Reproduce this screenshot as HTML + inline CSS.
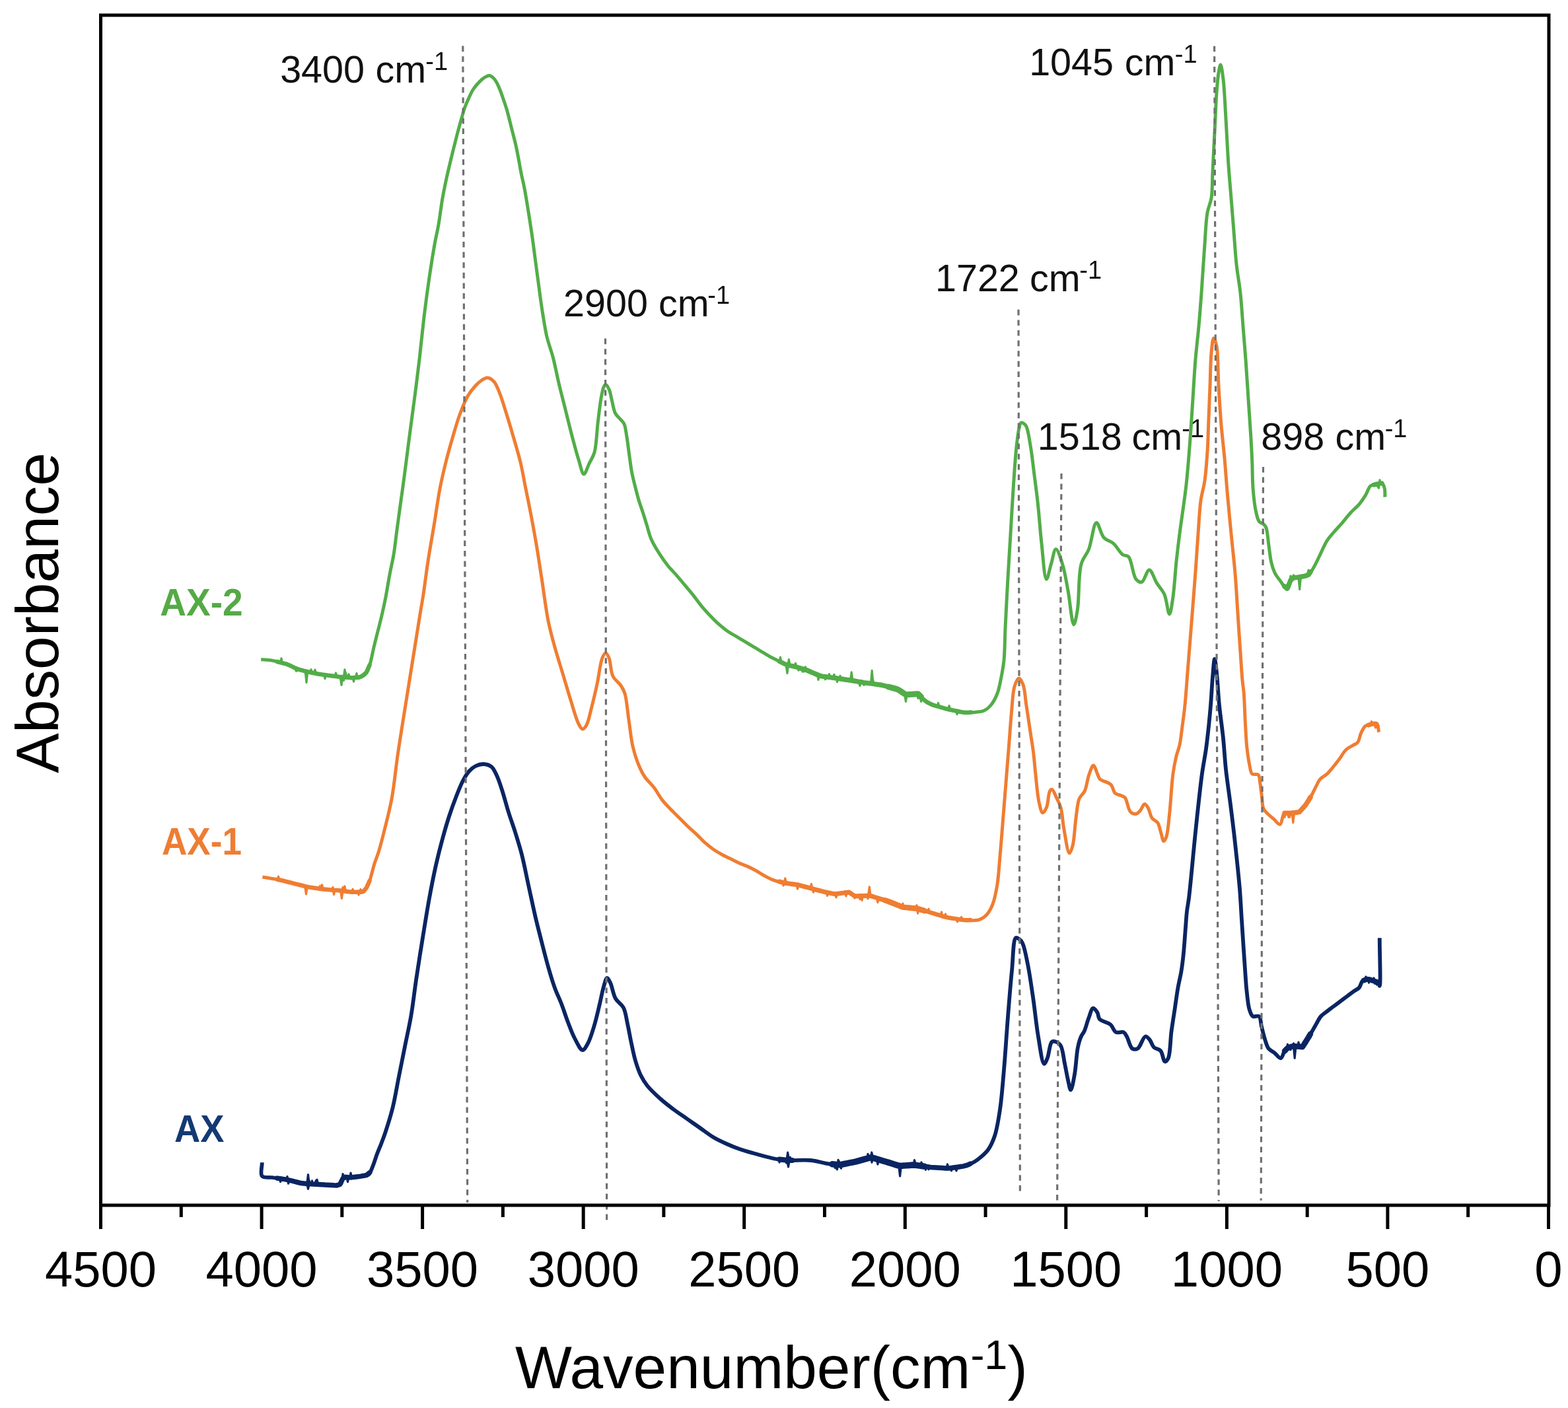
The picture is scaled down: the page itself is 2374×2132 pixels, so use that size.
<!DOCTYPE html>
<html><head><meta charset="utf-8"><title>FTIR spectra</title>
<style>html,body{margin:0;padding:0;background:#fff;width:2374px;height:2132px;overflow:hidden}svg{display:block}</style>
</head><body>
<svg xmlns="http://www.w3.org/2000/svg" width="2374" height="2132" viewBox="0 0 2374 2132">
<rect width="100%" height="100%" fill="#ffffff"/>
<g font-family="Liberation Sans, Arial, sans-serif" fill="#111">
<text x="488.1" y="125.1" font-size="57.5" text-anchor="middle">3400</text>
<text x="568.4" y="125.1" font-size="57.5">cm</text>
<text x="644.3" y="106.1" font-size="38">-1</text>
<text x="917.0" y="479.2" font-size="57.5" text-anchor="middle">2900</text>
<text x="996.9" y="479.2" font-size="57.5">cm</text>
<text x="1071.3" y="460.2" font-size="38">-1</text>
<text x="1479.9" y="441.4" font-size="57.5" text-anchor="middle">1722</text>
<text x="1559.1" y="441.4" font-size="57.5">cm</text>
<text x="1634.3" y="422.4" font-size="38">-1</text>
<text x="1634.8" y="680.7" font-size="57.5" text-anchor="middle">1518</text>
<text x="1713.6" y="680.7" font-size="57.5">cm</text>
<text x="1789.3" y="661.7" font-size="38">-1</text>
<text x="1622.1" y="114.4" font-size="57.5" text-anchor="middle">1045</text>
<text x="1702.8" y="114.4" font-size="57.5">cm</text>
<text x="1778.8" y="95.4" font-size="38">-1</text>
<text x="1957.2" y="681.0" font-size="57.5" text-anchor="middle">898</text>
<text x="2021.6" y="681.0" font-size="57.5">cm</text>
<text x="2096.7" y="662.0" font-size="38">-1</text>
</g>
<path d="M396.8,1760.2 C396.8,1767.1 393.6,1777.1 396.8,1780.8 C399.6,1784.0 406.9,1782.2 412.6,1783.0 C419.3,1784.0 427.1,1784.8 434.3,1786.2 C441.6,1787.6 450.0,1790.6 456.0,1791.6 C460.2,1792.3 462.6,1792.4 466.8,1792.7 C472.8,1793.2 481.3,1793.4 488.5,1793.8 C495.7,1794.2 505.3,1795.6 510.2,1794.9 C512.8,1794.6 514.5,1794.5 516.0,1793.0 C518.1,1791.0 517.4,1783.7 520.0,1782.0 C522.7,1780.3 527.7,1783.1 532.0,1783.0 C537.0,1782.9 543.5,1781.6 548.2,1780.8 C551.9,1780.1 555.4,1780.6 558.0,1778.6 C561.1,1776.2 562.5,1770.4 564.5,1765.6 C566.9,1760.0 568.8,1753.0 571.0,1747.1 C573.1,1741.5 575.5,1736.2 577.5,1730.9 C579.4,1725.8 580.9,1722.2 583.0,1716.0 C586.3,1706.1 591.2,1690.6 594.6,1677.0 C598.2,1662.3 600.7,1646.2 603.8,1630.8 C606.9,1615.4 609.9,1600.0 613.0,1584.6 C616.1,1569.2 619.5,1554.6 622.3,1538.5 C625.3,1521.1 627.2,1502.9 630.0,1484.0 C633.0,1463.5 636.6,1441.0 640.0,1420.0 C643.3,1399.7 646.5,1379.1 650.0,1360.0 C653.2,1342.5 656.5,1325.7 660.0,1310.0 C663.2,1295.9 666.5,1282.8 670.0,1270.0 C673.2,1258.2 676.5,1246.7 680.0,1236.0 C683.2,1226.2 686.5,1216.9 690.0,1208.0 C693.2,1199.6 696.4,1191.1 700.0,1184.0 C703.1,1178.0 706.3,1172.2 710.0,1168.0 C713.1,1164.6 716.3,1161.8 720.0,1160.0 C723.6,1158.2 728.0,1156.8 732.0,1157.0 C736.0,1157.2 740.7,1158.4 744.0,1161.0 C747.6,1163.8 749.6,1169.0 752.0,1174.0 C755.0,1180.2 757.3,1187.8 760.0,1196.0 C763.3,1206.1 766.6,1219.1 770.0,1230.0 C773.2,1240.3 776.8,1249.7 780.0,1260.0 C783.4,1270.9 786.9,1281.8 790.0,1294.0 C793.6,1308.1 796.6,1324.3 800.0,1340.0 C803.6,1356.3 807.4,1374.7 811.0,1390.0 C814.1,1403.0 816.9,1413.8 820.0,1426.0 C823.2,1438.5 826.5,1451.9 830.0,1464.0 C833.2,1475.2 836.4,1486.2 840.0,1496.0 C843.1,1504.7 846.8,1511.6 850.0,1520.0 C853.5,1528.9 856.5,1539.1 860.0,1548.0 C863.2,1556.4 866.1,1564.7 870.0,1572.0 C873.5,1578.6 878.3,1589.8 882.0,1590.0 C884.8,1590.1 887.5,1584.4 890.0,1580.0 C893.8,1573.2 897.1,1561.7 900.0,1552.0 C903.1,1541.8 905.6,1530.1 908.0,1520.0 C910.2,1510.9 911.8,1501.1 914.0,1494.0 C915.6,1488.9 917.1,1481.2 919.0,1481.0 C920.5,1480.8 922.4,1484.8 924.0,1488.0 C926.8,1493.5 928.2,1505.4 932.0,1512.0 C935.2,1517.7 941.1,1520.3 944.0,1526.0 C947.4,1532.6 948.1,1541.5 950.0,1550.0 C952.1,1559.4 953.9,1570.4 956.0,1580.0 C957.9,1589.0 959.6,1597.8 962.0,1606.0 C964.3,1613.7 966.8,1621.4 970.0,1628.0 C972.9,1633.9 975.7,1638.6 980.0,1644.0 C985.2,1650.6 993.2,1657.9 1000.0,1664.0 C1006.5,1669.8 1013.3,1674.9 1020.0,1680.0 C1026.6,1684.9 1033.3,1689.3 1040.0,1694.0 C1046.7,1698.7 1053.3,1703.3 1060.0,1708.0 C1066.7,1712.7 1073.2,1717.9 1080.0,1722.0 C1086.5,1725.9 1093.3,1729.0 1100.0,1732.0 C1106.6,1735.0 1113.3,1737.7 1120.0,1740.0 C1126.6,1742.3 1133.3,1744.1 1140.0,1746.0 C1146.7,1747.9 1153.8,1749.9 1160.0,1751.5 C1165.3,1752.9 1169.7,1754.1 1175.0,1755.0 C1180.7,1756.0 1186.2,1756.6 1193.2,1757.0 C1202.9,1757.5 1217.1,1755.9 1227.7,1757.0 C1237.0,1757.9 1245.8,1761.0 1253.6,1762.2 C1259.9,1763.1 1264.6,1764.2 1270.9,1763.9 C1278.7,1763.5 1288.5,1760.7 1296.8,1758.7 C1304.6,1756.8 1312.0,1752.4 1319.3,1752.5 C1326.4,1752.6 1333.0,1756.6 1340.0,1758.7 C1347.3,1760.9 1355.0,1764.8 1362.4,1765.6 C1369.4,1766.4 1375.9,1763.7 1383.2,1763.9 C1391.3,1764.1 1400.4,1766.5 1409.0,1767.4 C1417.6,1768.3 1426.4,1769.4 1435.0,1769.1 C1443.7,1768.8 1454.2,1767.4 1460.9,1765.6 C1465.5,1764.4 1468.7,1762.7 1472.0,1761.0 C1475.0,1759.5 1477.0,1758.3 1480.0,1756.0 C1484.6,1752.5 1491.7,1746.9 1496.0,1741.0 C1500.4,1734.9 1503.2,1728.3 1506.0,1720.0 C1509.7,1709.0 1511.8,1694.7 1514.0,1680.0 C1516.7,1662.1 1518.1,1641.4 1520.0,1620.0 C1522.2,1595.3 1523.9,1565.8 1526.0,1540.0 C1527.9,1515.9 1529.8,1491.4 1532.0,1470.0 C1533.9,1451.9 1533.7,1422.6 1538.0,1420.0 C1539.4,1419.2 1541.5,1420.9 1543.0,1422.0 C1544.9,1423.3 1546.5,1425.0 1548.0,1428.0 C1551.2,1434.3 1553.6,1448.1 1556.0,1460.0 C1559.0,1474.8 1561.4,1492.6 1564.0,1510.0 C1566.8,1529.1 1568.9,1552.0 1572.0,1570.0 C1574.6,1585.0 1577.6,1610.3 1580.8,1610.8 C1582.4,1611.1 1584.2,1606.1 1585.7,1602.5 C1588.2,1596.6 1589.1,1580.7 1592.3,1577.8 C1593.7,1576.5 1595.4,1576.6 1597.2,1577.0 C1599.7,1577.6 1603.3,1579.5 1605.5,1582.7 C1609.3,1588.2 1610.1,1601.7 1612.1,1610.8 C1613.9,1619.3 1615.3,1628.3 1617.0,1635.5 C1618.3,1641.1 1619.7,1650.3 1621.1,1650.3 C1622.9,1650.3 1625.3,1636.1 1626.9,1627.2 C1629.1,1615.5 1629.7,1596.6 1631.9,1586.0 C1633.3,1579.2 1634.8,1574.0 1636.8,1569.5 C1638.3,1566.2 1640.1,1564.7 1641.7,1561.3 C1644.0,1556.2 1645.9,1547.6 1648.3,1541.5 C1650.4,1536.2 1652.3,1527.2 1654.9,1526.7 C1656.9,1526.3 1659.9,1530.7 1661.5,1533.3 C1663.2,1536.1 1662.4,1540.4 1664.8,1543.2 C1668.0,1546.9 1677.1,1547.8 1681.3,1551.4 C1685.0,1554.6 1686.0,1561.2 1689.6,1563.0 C1692.8,1564.6 1698.3,1561.6 1701.1,1563.0 C1703.5,1564.2 1704.3,1566.7 1706.0,1569.5 C1708.6,1573.9 1710.6,1585.3 1714.3,1587.7 C1716.7,1589.2 1719.9,1589.1 1722.5,1587.7 C1726.7,1585.4 1730.4,1570.2 1734.1,1569.5 C1736.4,1569.1 1738.7,1572.2 1740.7,1574.5 C1743.2,1577.4 1744.3,1583.2 1747.2,1586.0 C1749.9,1588.5 1754.5,1588.2 1757.1,1591.0 C1760.4,1594.6 1761.2,1607.0 1763.7,1607.5 C1765.3,1607.8 1767.3,1605.3 1768.7,1602.5 C1772.0,1595.6 1771.8,1574.3 1773.6,1561.3 C1775.2,1549.7 1776.9,1539.3 1778.6,1528.3 C1780.2,1517.3 1781.7,1505.6 1783.5,1495.4 C1785.1,1486.6 1787.1,1479.0 1788.5,1470.7 C1789.9,1462.5 1790.7,1455.2 1791.7,1445.9 C1793.0,1433.9 1794.0,1416.7 1795.0,1404.7 C1795.7,1395.4 1796.1,1387.8 1797.0,1380.0 C1797.8,1373.0 1798.8,1369.2 1800.0,1360.0 C1802.6,1339.4 1806.6,1292.4 1810.0,1260.0 C1813.2,1229.5 1816.8,1194.2 1820.0,1171.0 C1822.1,1156.0 1824.3,1146.1 1826.0,1134.0 C1827.6,1122.4 1828.8,1111.2 1830.0,1100.0 C1831.1,1089.2 1832.1,1079.5 1833.0,1068.0 C1834.1,1054.7 1834.9,1037.7 1836.0,1025.0 C1836.9,1014.9 1837.9,998.0 1839.0,998.0 C1839.9,998.0 1841.1,1009.8 1842.0,1018.0 C1843.5,1030.9 1844.3,1051.3 1846.0,1068.0 C1847.7,1084.7 1850.3,1101.6 1852.0,1118.0 C1853.6,1133.9 1854.3,1148.8 1856.0,1165.0 C1857.9,1182.4 1860.8,1200.8 1863.1,1219.2 C1865.5,1238.2 1867.8,1256.9 1870.0,1277.0 C1872.4,1299.0 1875.3,1325.6 1877.0,1346.0 C1878.3,1362.3 1878.9,1375.7 1879.8,1390.0 C1880.7,1403.5 1881.5,1416.4 1882.4,1429.6 C1883.3,1442.8 1884.2,1456.5 1885.1,1469.1 C1885.9,1480.6 1886.5,1491.7 1887.7,1502.1 C1888.8,1511.4 1889.5,1521.8 1891.6,1528.5 C1893.0,1532.9 1894.2,1537.4 1896.9,1539.0 C1899.3,1540.5 1904.0,1537.3 1906.2,1539.0 C1909.1,1541.3 1908.7,1549.2 1910.1,1554.8 C1911.7,1561.0 1913.4,1568.7 1915.4,1574.6 C1917.0,1579.5 1918.1,1584.4 1920.7,1587.8 C1923.1,1590.8 1926.9,1592.0 1929.9,1594.4 C1933.0,1596.9 1936.4,1602.8 1939.1,1602.3 C1942.2,1601.7 1943.5,1590.8 1947.0,1587.8 C1949.9,1585.3 1953.7,1584.4 1957.6,1583.9 C1962.0,1583.3 1968.5,1587.0 1972.1,1585.2 C1975.4,1583.6 1976.4,1578.3 1978.7,1574.6 C1981.2,1570.5 1984.2,1565.4 1986.6,1561.4 C1988.6,1558.1 1989.9,1555.5 1991.9,1552.2 C1994.3,1548.2 1996.8,1542.5 1999.8,1539.0 C2002.2,1536.2 2004.8,1534.7 2007.7,1532.4 C2010.9,1529.8 2014.7,1527.1 2018.2,1524.5 C2021.7,1521.9 2025.3,1519.2 2028.8,1516.6 C2032.3,1514.0 2035.8,1511.3 2039.3,1508.7 C2042.8,1506.1 2046.6,1503.1 2049.9,1500.8 C2052.7,1498.8 2055.7,1497.9 2057.8,1495.5 C2060.2,1492.8 2060.6,1487.2 2063.1,1485.0 C2065.2,1483.2 2068.4,1482.3 2071.0,1482.3 C2073.6,1482.3 2076.3,1484.1 2078.9,1485.0 C2081.5,1485.9 2085.2,1486.0 2086.8,1487.6 C2088.1,1488.9 2088.3,1493.0 2088.8,1492.9 C2090.7,1492.6 2088.8,1444.5 2088.8,1420.3" fill="none" stroke="#0a2562" stroke-width="5.8" stroke-linejoin="round" stroke-linecap="butt"/>
<path d="M420.0,1784.1 L424.5,1784.8 L429.0,1785.4 L433.5,1786.1 L438.0,1787.1 L442.5,1788.2 L447.0,1789.4 L451.5,1790.5 L456.0,1791.6 L460.5,1792.1 L465.0,1792.5 L469.5,1792.8 L474.0,1793.1 L478.5,1793.3 L483.0,1793.5 L487.5,1793.7 L492.0,1794.0 L496.5,1794.2 L501.0,1794.4 L505.5,1794.7 L510.0,1794.9 L514.5,1793.5 L519.0,1784.8 L523.5,1782.3 L528.0,1782.7 L532.5,1782.9 L537.0,1782.3 L541.5,1781.7 L546.0,1781.1 L550.5,1780.3 L555.0,1779.3 L559.5,1775.6 L559.5,1775.6" fill="none" stroke="#0a2562" stroke-width="7.5" stroke-linejoin="round" stroke-linecap="round"/>
<path d="M1180.0,1755.5 L1184.5,1756.0 L1189.0,1756.5 L1193.5,1757.0 L1198.0,1757.0 L1199.5,1757.0" fill="none" stroke="#0a2562" stroke-width="8.0" stroke-linejoin="round" stroke-linecap="round"/>
<path d="M1260.0,1762.8 L1264.5,1763.3 L1269.0,1763.7 L1273.5,1763.4 L1278.0,1762.5 L1282.5,1761.6 L1287.0,1760.7 L1291.5,1759.8 L1296.0,1758.9 L1300.5,1757.7 L1305.0,1756.4 L1309.5,1755.2 L1314.0,1754.0 L1318.5,1752.7 L1323.0,1753.6 L1327.5,1755.0 L1332.0,1756.3 L1336.5,1757.7 L1341.0,1759.0 L1345.5,1760.4 L1350.0,1761.8 L1354.5,1763.2 L1359.0,1764.6 L1363.5,1765.5 L1368.0,1765.1 L1372.5,1764.8 L1377.0,1764.4 L1381.5,1764.0 L1386.0,1764.3 L1390.5,1764.9 L1395.0,1765.5 L1399.5,1766.1 L1399.5,1766.1" fill="none" stroke="#0a2562" stroke-width="9.5" stroke-linejoin="round" stroke-linecap="round"/>
<path d="M1400.0,1766.2 L1404.5,1766.8 L1409.0,1767.4 L1413.5,1767.7 L1418.0,1768.0 L1422.5,1768.3 L1427.0,1768.6 L1431.5,1768.9 L1436.0,1769.0 L1440.5,1768.4 L1445.0,1767.7 L1449.5,1767.1 L1454.0,1766.5 L1458.5,1765.9 L1463.0,1764.7 L1467.5,1762.9 L1469.0,1762.2" fill="none" stroke="#0a2562" stroke-width="7.5" stroke-linejoin="round" stroke-linecap="round"/>
<path d="M1945.0,1591.5 L1949.5,1586.9 L1954.0,1585.2 L1958.5,1584.0 L1963.0,1584.4 L1967.5,1584.8 L1972.0,1585.2 L1976.5,1578.1 L1981.0,1570.8 L1984.0,1565.7" fill="none" stroke="#0a2562" stroke-width="8.5" stroke-linejoin="round" stroke-linecap="round"/>
<path d="M2065.0,1484.4 L2069.5,1482.8 L2074.0,1483.3 L2078.5,1484.9 L2083.0,1486.3 L2086.0,1487.3" fill="none" stroke="#0a2562" stroke-width="8.0" stroke-linejoin="round" stroke-linecap="round"/>
<path d="M420.0,1784.3 L421.5,1784.7 L423.0,1783.0 L424.5,1789.5 L426.0,1786.8 L427.5,1786.4 L429.0,1785.9 L430.5,1786.1 L432.0,1785.9 L433.5,1786.7 L435.0,1781.5 L436.5,1792.2 L438.0,1788.5 L439.5,1789.0 L441.0,1789.0 L442.5,1789.8 L444.0,1787.2 L445.5,1788.0 L447.0,1789.1 L448.5,1789.0 L450.0,1789.7 L451.5,1790.8 L453.0,1792.3 L454.5,1792.8 L456.0,1793.4 L457.5,1790.5 L459.0,1793.6 L460.5,1792.3 L462.0,1791.2 L463.5,1792.6 L465.0,1790.9 L466.5,1794.4 L468.0,1787.5 L469.5,1792.1 L471.0,1794.3 L472.5,1787.9 L474.0,1793.2 L475.5,1792.3 L477.0,1791.5 L478.5,1787.4 L480.0,1786.2 L481.5,1792.6 L483.0,1795.2 L484.5,1793.1 L486.0,1795.0 L487.5,1795.1 L489.0,1795.1 L490.5,1792.5 L492.0,1795.1 L493.5,1794.5 L495.0,1795.7 L496.5,1793.3 L498.0,1793.7 L499.5,1796.1 L501.0,1794.0 L502.5,1793.2 L504.0,1794.0 L505.5,1796.2 L507.0,1793.9 L508.5,1795.1 L510.0,1793.2 L511.5,1794.9 L513.0,1794.3 L514.5,1792.4 L516.0,1794.2 L517.5,1789.9 L519.0,1777.6 L520.5,1780.7 L522.0,1782.7 L523.5,1781.7 L525.0,1783.0 L526.5,1789.7 L528.0,1781.7 L529.5,1784.5 L531.0,1776.0 L532.5,1781.9 L534.0,1782.8 L535.5,1783.6 L537.0,1781.2 L538.5,1783.2 L540.0,1783.0 L541.5,1780.4 L543.0,1782.6 L544.5,1780.7 L546.0,1780.8 L547.5,1782.4 L549.0,1778.8 L550.5,1781.7 L552.0,1779.7 L553.5,1781.1 L555.0,1780.2 L556.5,1779.5 L558.0,1777.8 L559.5,1774.6 M1180.0,1760.0 L1181.5,1753.9 L1183.0,1755.9 L1184.5,1757.6 L1186.0,1754.4 L1187.5,1754.9 L1189.0,1755.5 L1190.5,1760.9 L1192.0,1755.3 L1193.5,1758.9 L1195.0,1758.2 L1196.5,1752.3 L1198.0,1758.3 L1199.5,1758.2 M1260.0,1764.4 L1261.5,1760.4 L1263.0,1765.0 L1264.5,1768.7 L1266.0,1763.5 L1267.5,1770.9 L1269.0,1756.4 L1270.5,1759.0 L1272.0,1765.5 L1273.5,1769.1 L1275.0,1762.3 L1276.5,1763.2 L1278.0,1760.9 L1279.5,1760.2 L1281.0,1763.0 L1282.5,1759.4 L1284.0,1760.6 L1285.5,1762.4 L1287.0,1762.2 L1288.5,1760.0 L1290.0,1760.0 L1291.5,1759.4 L1293.0,1759.3 L1294.5,1759.3 L1296.0,1756.6 L1297.5,1758.1 L1299.0,1760.4 L1300.5,1759.7 L1302.0,1756.0 L1303.5,1754.9 L1305.0,1757.3 L1306.5,1757.5 L1308.0,1756.8 L1309.5,1753.1 L1311.0,1752.2 L1312.5,1755.8 L1314.0,1747.4 L1315.5,1752.9 L1317.0,1752.3 L1318.5,1750.3 L1320.0,1760.2 L1321.5,1753.6 L1323.0,1751.2 L1324.5,1754.1 L1326.0,1752.5 L1327.5,1757.2 L1329.0,1763.0 L1330.5,1753.7 L1332.0,1757.1 L1333.5,1757.8 L1335.0,1755.9 L1336.5,1759.9 L1338.0,1760.5 L1339.5,1757.2 L1341.0,1760.8 L1342.5,1759.0 L1344.0,1760.3 L1345.5,1761.4 L1347.0,1760.3 L1348.5,1759.6 L1350.0,1761.7 L1351.5,1764.6 L1353.0,1764.6 L1354.5,1764.5 L1356.0,1763.7 L1357.5,1765.9 L1359.0,1766.0 L1360.5,1766.9 L1362.0,1765.9 L1363.5,1767.5 L1365.0,1764.2 L1366.5,1763.7 L1368.0,1763.8 L1369.5,1766.9 L1371.0,1765.9 L1372.5,1763.2 L1374.0,1766.7 L1375.5,1762.1 L1377.0,1762.2 L1378.5,1765.8 L1380.0,1761.8 L1381.5,1766.1 L1383.0,1765.4 L1384.5,1756.5 L1386.0,1762.7 L1387.5,1762.9 L1389.0,1766.6 L1390.5,1763.6 L1392.0,1764.1 L1393.5,1766.5 L1395.0,1760.0 L1396.5,1763.3 L1398.0,1767.1 L1399.5,1763.7 M1400.0,1765.8 L1401.5,1771.3 L1403.0,1765.4 L1404.5,1767.3 L1406.0,1770.8 L1407.5,1766.8 L1409.0,1768.2 L1410.5,1768.0 L1412.0,1768.5 L1413.5,1768.5 L1415.0,1768.3 L1416.5,1766.7 L1418.0,1767.5 L1419.5,1768.6 L1421.0,1767.2 L1422.5,1768.7 L1424.0,1769.6 L1425.5,1767.3 L1427.0,1767.5 L1428.5,1769.3 L1430.0,1768.9 L1431.5,1768.7 L1433.0,1768.0 L1434.5,1762.9 L1436.0,1769.7 L1437.5,1768.1 L1439.0,1769.7 L1440.5,1772.7 L1442.0,1767.7 L1443.5,1767.7 L1445.0,1768.6 L1446.5,1768.6 L1448.0,1772.9 L1449.5,1767.3 L1451.0,1765.8 L1452.5,1766.9 L1454.0,1766.2 L1455.5,1765.2 L1457.0,1767.2 L1458.5,1766.1 L1460.0,1764.8 L1461.5,1765.0 L1463.0,1765.8 L1464.5,1763.8 L1466.0,1762.9 L1467.5,1762.3 L1469.0,1762.3 M1945.0,1593.1 L1946.5,1586.8 L1948.0,1588.0 L1949.5,1581.2 L1951.0,1586.2 L1952.5,1585.9 L1954.0,1589.6 L1955.5,1585.3 L1957.0,1584.0 L1958.5,1579.9 L1960.0,1584.1 L1961.5,1582.3 L1963.0,1583.7 L1964.5,1585.3 L1966.0,1578.1 L1967.5,1584.2 L1969.0,1586.6 L1970.5,1584.8 L1972.0,1585.1 L1973.5,1577.5 L1975.0,1581.4 L1976.5,1578.0 L1978.0,1580.5 L1979.5,1571.4 L1981.0,1571.5 L1982.5,1568.1 L1984.0,1571.0 M2065.0,1484.4 L2066.5,1483.0 L2068.0,1478.9 L2069.5,1483.9 L2071.0,1481.3 L2072.5,1488.1 L2074.0,1482.2 L2075.5,1483.7 L2077.0,1485.4 L2078.5,1484.3 L2080.0,1481.0 L2081.5,1489.4 L2083.0,1485.5 L2084.5,1491.0 L2086.0,1486.2 M464.7,1792.7 L466.5,1778.5 L468.3,1792.7 M464.7,1792.7 L466.5,1800.4 L468.3,1792.7 M1190.9,1756.9 L1192.7,1745.0 L1194.5,1756.9 M1191.7,1757.0 L1193.5,1767.0 L1195.3,1757.0 M1318.0,1752.6 L1319.8,1745.0 L1321.6,1752.6 M1360.8,1765.6 L1362.6,1781.0 L1364.4,1765.6 M1958.4,1584.1 L1960.2,1602.3 L1962.0,1584.1" fill="none" stroke="#0a2562" stroke-width="3.2" stroke-linejoin="round" stroke-linecap="round"/>
<path d="M397.4,1328.0 C406.1,1329.4 415.2,1330.6 423.4,1332.3 C431.0,1333.9 437.9,1336.0 445.1,1337.8 C452.3,1339.6 459.5,1341.8 466.8,1343.2 C474.0,1344.6 480.8,1345.5 488.5,1346.4 C497.0,1347.4 507.8,1347.7 515.7,1348.6 C521.8,1349.3 526.5,1350.4 532.0,1350.8 C537.7,1351.2 545.6,1352.3 549.3,1350.8 C551.5,1349.9 552.3,1348.2 553.6,1346.4 C555.2,1344.3 556.7,1341.8 558.0,1338.8 C559.7,1334.9 560.9,1329.6 562.3,1324.7 C563.8,1319.5 565.0,1314.0 566.7,1308.4 C568.6,1302.4 571.1,1296.6 573.2,1290.0 C575.6,1282.3 577.5,1275.0 580.0,1265.0 C583.8,1250.0 589.6,1228.3 593.2,1208.8 C597.0,1188.1 598.9,1165.5 602.0,1144.0 C605.1,1122.6 608.8,1100.0 612.0,1080.0 C614.8,1062.3 617.3,1046.7 620.0,1030.0 C622.7,1013.3 625.3,996.7 628.0,980.0 C630.7,963.3 633.6,944.5 636.0,930.0 C637.8,918.7 639.3,911.3 641.0,900.0 C643.2,885.5 645.3,867.4 648.0,850.0 C650.9,830.9 654.9,809.1 658.0,790.0 C660.8,772.6 662.9,756.1 666.0,740.0 C668.9,724.8 672.5,709.9 676.0,696.0 C679.2,683.4 682.6,671.6 686.0,660.0 C689.2,649.0 692.2,638.2 696.0,628.0 C699.6,618.3 703.5,607.8 708.0,600.0 C711.7,593.7 716.1,588.3 720.0,584.0 C723.0,580.7 725.8,578.0 729.0,576.0 C731.9,574.2 735.0,571.8 738.0,572.0 C741.3,572.2 745.2,575.0 748.0,578.0 C751.5,581.8 753.4,587.7 756.0,594.0 C759.5,602.3 762.6,613.3 766.0,624.0 C769.9,636.3 774.2,651.0 778.0,664.0 C781.6,676.3 785.0,687.6 788.0,700.0 C791.1,712.9 793.3,726.7 796.0,740.0 C798.7,753.3 801.4,766.3 804.0,780.0 C806.7,794.3 809.4,808.8 812.0,824.0 C814.8,840.4 817.2,857.0 820.0,875.0 C823.2,895.4 826.2,921.0 830.0,940.0 C833.0,955.0 836.3,966.7 840.0,980.0 C843.7,993.4 848.0,1006.7 852.0,1020.0 C856.0,1033.3 859.9,1047.0 864.0,1060.0 C867.9,1072.3 872.1,1088.5 876.0,1096.0 C878.0,1099.9 879.9,1103.9 882.0,1104.0 C883.9,1104.1 886.2,1101.1 888.0,1098.0 C891.3,1092.3 893.4,1079.8 896.0,1070.0 C898.8,1059.2 901.4,1047.8 904.0,1036.0 C906.8,1023.2 908.7,1003.7 912.0,996.0 C913.5,992.5 915.3,989.0 917.0,989.0 C918.7,989.0 920.5,992.7 922.0,996.0 C924.7,1002.1 924.3,1016.6 928.0,1024.0 C930.9,1029.9 936.9,1033.3 940.0,1038.0 C942.6,1042.0 944.3,1044.7 946.0,1050.0 C948.9,1059.3 950.0,1076.7 952.0,1090.0 C954.0,1103.3 955.3,1118.2 958.0,1130.0 C960.2,1139.7 962.8,1148.0 966.0,1156.0 C968.9,1163.2 971.9,1169.9 976.0,1176.0 C980.0,1182.0 985.6,1186.5 990.0,1192.3 C994.6,1198.3 998.3,1205.8 1002.8,1211.6 C1006.9,1216.8 1011.4,1221.2 1015.7,1225.7 C1019.9,1230.1 1024.2,1234.2 1028.5,1238.5 C1032.8,1242.8 1037.0,1247.2 1041.3,1251.3 C1045.5,1255.3 1049.9,1258.9 1054.1,1262.9 C1058.4,1267.0 1062.6,1271.8 1067.0,1275.7 C1071.2,1279.4 1075.4,1282.9 1079.8,1286.0 C1084.0,1288.9 1088.3,1291.3 1092.6,1293.7 C1096.8,1296.0 1101.1,1298.0 1105.4,1300.1 C1109.7,1302.2 1114.0,1304.6 1118.3,1306.5 C1122.5,1308.4 1126.9,1309.7 1131.1,1311.6 C1135.4,1313.5 1139.7,1315.7 1143.9,1318.0 C1148.2,1320.4 1152.5,1323.3 1156.8,1325.7 C1161.0,1328.0 1164.8,1330.3 1169.6,1332.1 C1175.3,1334.3 1182.3,1336.0 1188.8,1337.3 C1195.2,1338.6 1201.7,1338.5 1208.1,1339.8 C1214.6,1341.1 1220.9,1343.3 1227.3,1345.0 C1233.7,1346.7 1240.3,1348.6 1246.5,1350.1 C1252.3,1351.5 1257.4,1353.5 1263.5,1353.8 C1270.3,1354.1 1280.0,1349.7 1285.5,1351.0 C1289.3,1351.9 1290.5,1355.9 1294.3,1357.0 C1299.8,1358.6 1308.6,1355.0 1316.3,1356.0 C1325.3,1357.1 1336.0,1361.7 1344.8,1364.8 C1352.7,1367.6 1359.3,1371.8 1366.8,1373.6 C1374.0,1375.4 1381.5,1374.4 1388.8,1375.8 C1396.2,1377.3 1403.5,1380.2 1410.8,1382.4 C1418.1,1384.6 1424.8,1387.2 1432.7,1389.0 C1441.5,1391.0 1452.4,1392.9 1461.3,1393.4 C1469.1,1393.8 1477.4,1394.3 1483.3,1392.3 C1487.9,1390.7 1491.2,1388.1 1494.3,1384.6 C1497.9,1380.6 1500.6,1375.3 1503.0,1369.2 C1506.1,1361.3 1507.9,1351.3 1509.7,1340.7 C1511.9,1327.7 1512.6,1312.2 1514.0,1296.7 C1515.6,1279.4 1517.0,1260.1 1518.5,1241.8 C1520.0,1223.5 1521.4,1205.1 1522.9,1186.8 C1524.4,1168.5 1525.9,1150.2 1527.3,1131.9 C1528.8,1113.6 1530.0,1093.4 1531.6,1076.9 C1532.9,1063.2 1533.2,1048.6 1536.0,1039.6 C1537.7,1034.1 1540.3,1027.1 1542.6,1027.0 C1544.7,1026.9 1547.5,1032.8 1549.2,1037.4 C1551.8,1044.4 1552.0,1055.4 1553.6,1065.9 C1555.6,1079.0 1558.2,1096.6 1560.2,1109.9 C1561.8,1120.9 1563.4,1129.8 1564.7,1140.1 C1566.0,1150.8 1566.7,1161.5 1568.0,1173.1 C1569.4,1186.1 1570.6,1203.8 1573.0,1214.3 C1574.6,1221.1 1576.4,1230.5 1578.7,1230.8 C1580.4,1231.0 1582.9,1226.3 1584.5,1222.6 C1587.0,1216.8 1587.1,1201.7 1589.5,1197.9 C1590.5,1196.3 1591.7,1195.2 1592.8,1195.4 C1594.9,1195.9 1597.3,1203.4 1599.4,1207.7 C1601.7,1212.4 1604.2,1216.5 1606.0,1222.6 C1608.5,1231.3 1608.8,1244.4 1610.9,1255.6 C1613.1,1267.4 1616.3,1291.5 1619.1,1291.8 C1620.7,1292.0 1622.7,1285.5 1624.1,1280.3 C1626.6,1270.9 1627.2,1251.7 1629.0,1239.1 C1630.5,1228.4 1631.0,1216.7 1634.0,1209.4 C1636.1,1204.4 1639.9,1202.7 1642.2,1197.9 C1645.3,1191.4 1646.2,1180.1 1648.8,1173.1 C1650.8,1167.7 1653.2,1159.1 1655.4,1159.1 C1657.6,1159.1 1660.2,1169.3 1662.0,1173.1 C1663.3,1175.7 1663.3,1177.7 1665.3,1179.7 C1668.5,1182.9 1677.9,1184.1 1681.8,1188.0 C1685.3,1191.5 1685.4,1198.5 1688.4,1201.2 C1690.7,1203.3 1694.0,1203.3 1696.6,1204.4 C1698.9,1205.4 1701.2,1205.5 1703.2,1207.7 C1706.7,1211.5 1707.7,1225.4 1711.5,1229.2 C1713.8,1231.6 1717.2,1232.8 1719.7,1232.5 C1722.1,1232.2 1724.3,1229.7 1726.3,1227.5 C1728.7,1224.9 1730.7,1217.8 1732.9,1217.6 C1734.6,1217.4 1736.3,1220.2 1737.9,1222.6 C1740.4,1226.3 1741.4,1235.1 1744.4,1239.1 C1746.7,1242.2 1750.6,1242.7 1752.7,1245.7 C1755.3,1249.4 1756.0,1255.7 1757.6,1260.5 C1759.1,1265.0 1760.2,1273.5 1761.8,1273.7 C1763.0,1273.9 1764.7,1270.4 1765.9,1267.1 C1768.4,1260.0 1769.3,1244.3 1770.8,1230.8 C1772.7,1213.8 1773.7,1188.7 1775.8,1173.1 C1777.2,1162.3 1778.8,1154.1 1780.7,1146.0 C1782.3,1139.3 1784.5,1134.7 1786.0,1128.0 C1787.8,1119.8 1788.7,1109.7 1790.0,1100.0 C1791.4,1089.7 1792.8,1079.9 1794.0,1068.0 C1795.5,1053.2 1796.7,1034.7 1798.0,1018.0 C1799.3,1001.3 1800.7,984.7 1802.0,968.0 C1803.3,951.3 1804.7,934.8 1806.0,918.0 C1807.3,900.8 1808.7,883.8 1810.0,866.0 C1811.4,847.2 1812.6,826.6 1814.0,808.0 C1815.3,790.7 1816.0,772.5 1818.0,758.0 C1819.6,746.7 1822.4,739.0 1824.0,728.0 C1825.9,714.8 1827.0,699.1 1828.0,684.0 C1829.1,667.9 1829.3,650.7 1830.0,634.0 C1830.7,617.3 1831.3,600.7 1832.0,584.0 C1832.7,567.3 1832.7,547.3 1834.0,534.0 C1834.9,525.2 1835.9,512.2 1837.5,512.0 C1838.7,511.9 1840.8,518.3 1842.0,524.0 C1844.5,536.2 1843.8,564.0 1845.0,584.0 C1846.2,604.0 1847.4,624.9 1849.0,644.0 C1850.5,661.4 1852.5,677.3 1854.0,694.0 C1855.5,710.7 1856.5,726.3 1858.0,744.0 C1859.7,764.0 1862.0,787.0 1864.0,808.0 C1866.0,828.3 1868.3,848.0 1870.0,868.0 C1871.7,888.0 1872.7,908.0 1874.0,928.0 C1875.3,948.0 1876.7,969.8 1878.0,988.0 C1879.1,1003.2 1879.9,1018.6 1881.0,1030.0 C1881.7,1037.9 1882.7,1042.1 1883.3,1050.0 C1884.2,1061.6 1884.5,1078.7 1885.3,1092.7 C1886.1,1106.2 1886.6,1120.5 1887.9,1132.3 C1889.0,1142.0 1890.3,1151.5 1891.9,1158.7 C1893.1,1163.9 1893.2,1169.6 1895.8,1171.9 C1898.0,1173.8 1903.1,1171.3 1905.1,1173.2 C1907.4,1175.3 1906.9,1180.5 1907.7,1185.0 C1908.7,1190.7 1909.4,1198.2 1910.3,1204.8 C1911.2,1211.4 1910.8,1219.7 1913.0,1224.6 C1914.6,1228.1 1917.1,1230.0 1919.6,1232.5 C1922.3,1235.3 1925.7,1237.8 1928.8,1240.4 C1931.9,1243.1 1935.5,1249.0 1938.0,1248.4 C1941.1,1247.6 1941.1,1233.6 1944.6,1231.2 C1947.0,1229.5 1950.5,1231.4 1953.8,1231.2 C1957.8,1231.0 1963.2,1231.9 1967.0,1229.9 C1971.2,1227.8 1974.5,1222.2 1977.6,1218.0 C1980.6,1213.8 1983.1,1209.2 1985.5,1204.8 C1987.9,1200.5 1989.9,1195.9 1992.1,1191.7 C1994.3,1187.6 1995.8,1183.1 1998.7,1179.8 C2001.5,1176.5 2005.9,1174.9 2009.2,1171.9 C2012.6,1168.8 2015.5,1165.0 2018.5,1161.3 C2021.6,1157.5 2024.6,1153.7 2027.7,1149.5 C2031.1,1144.9 2034.3,1138.6 2038.2,1135.0 C2041.5,1132.0 2045.7,1130.3 2048.8,1128.4 C2051.3,1126.9 2053.6,1126.6 2055.4,1124.4 C2058.0,1121.3 2058.6,1114.3 2060.7,1109.9 C2062.6,1106.0 2064.5,1101.5 2067.3,1099.3 C2069.6,1097.5 2072.4,1097.3 2075.2,1096.7 C2078.1,1096.0 2082.3,1094.0 2084.4,1095.4 C2086.9,1097.1 2086.6,1104.2 2087.7,1108.6" fill="none" stroke="#ef7d32" stroke-width="5.0" stroke-linejoin="round" stroke-linecap="butt"/>
<path d="M420.0,1331.7 L424.5,1332.6 L429.0,1333.7 L433.5,1334.9 L438.0,1336.0 L442.5,1337.1 L447.0,1338.3 L451.5,1339.4 L456.0,1340.5 L460.5,1341.6 L465.0,1342.8 L469.5,1343.6 L474.0,1344.3 L478.5,1344.9 L483.0,1345.6 L487.5,1346.3 L492.0,1346.7 L496.5,1347.0 L501.0,1347.4 L505.5,1347.8 L510.0,1348.1 L514.5,1348.5 L519.0,1349.0 L523.5,1349.7 L528.0,1350.3 L532.5,1350.8 L537.0,1350.8 L541.5,1350.8 L546.0,1350.8 L550.5,1349.6 L555.0,1344.0 L559.5,1333.9 L559.5,1333.9" fill="none" stroke="#ef7d32" stroke-width="6.5" stroke-linejoin="round" stroke-linecap="round"/>
<path d="M1180.0,1334.9 L1184.5,1336.1 L1189.0,1337.3 L1193.5,1337.9 L1198.0,1338.5 L1199.5,1338.7" fill="none" stroke="#ef7d32" stroke-width="7.0" stroke-linejoin="round" stroke-linecap="round"/>
<path d="M1200.0,1338.8 L1204.5,1339.3 L1209.0,1340.0 L1213.5,1341.3 L1218.0,1342.5 L1222.5,1343.7 L1227.0,1344.9 L1231.5,1346.1 L1236.0,1347.3 L1240.5,1348.5 L1245.0,1349.7 L1249.5,1350.8 L1254.0,1351.7 L1258.5,1352.7 L1263.0,1353.7 L1267.5,1353.3 L1272.0,1352.7 L1276.5,1352.1 L1281.0,1351.6 L1285.5,1351.0 L1290.0,1354.1 L1294.5,1357.0 L1299.0,1356.8 L1303.5,1356.6 L1308.0,1356.4 L1312.5,1356.2 L1317.0,1356.2 L1321.5,1357.6 L1326.0,1359.0 L1330.5,1360.4 L1335.0,1361.8 L1339.5,1363.2 L1339.5,1363.2" fill="none" stroke="#ef7d32" stroke-width="7.0" stroke-linejoin="round" stroke-linecap="round"/>
<path d="M1340.0,1363.3 L1344.5,1364.7 L1349.0,1366.5 L1353.5,1368.3 L1358.0,1370.1 L1362.5,1371.9 L1367.0,1373.6 L1371.5,1374.1 L1376.0,1374.5 L1380.5,1375.0 L1385.0,1375.4 L1389.5,1376.0 L1394.0,1377.4 L1398.5,1378.7 L1400.0,1379.2" fill="none" stroke="#ef7d32" stroke-width="8.5" stroke-linejoin="round" stroke-linecap="round"/>
<path d="M1400.0,1379.2 L1404.5,1380.5 L1409.0,1381.9 L1413.5,1383.2 L1418.0,1384.6 L1422.5,1385.9 L1427.0,1387.3 L1431.5,1388.6 L1436.0,1389.5 L1440.5,1390.2 L1445.0,1390.9 L1449.5,1391.6 L1454.0,1392.3 L1458.5,1393.0 L1463.0,1393.3 L1467.5,1393.1 L1469.0,1393.0" fill="none" stroke="#ef7d32" stroke-width="6.5" stroke-linejoin="round" stroke-linecap="round"/>
<path d="M1945.0,1231.2 L1949.5,1231.2 L1954.0,1231.2 L1958.5,1230.7 L1963.0,1230.3 L1967.5,1229.3 L1972.0,1224.3 L1976.5,1219.2 L1981.0,1212.3 L1984.0,1207.3" fill="none" stroke="#ef7d32" stroke-width="7.5" stroke-linejoin="round" stroke-linecap="round"/>
<path d="M2072.0,1097.8 L2076.5,1096.5 L2081.0,1095.9 L2085.5,1099.8 L2085.5,1099.8" fill="none" stroke="#ef7d32" stroke-width="7.0" stroke-linejoin="round" stroke-linecap="round"/>
<path d="M420.0,1333.2 L421.5,1327.1 L423.0,1333.2 L424.5,1331.8 L426.0,1331.5 L427.5,1334.9 L429.0,1334.7 L430.5,1334.1 L432.0,1335.9 L433.5,1336.1 L435.0,1334.8 L436.5,1336.9 L438.0,1337.2 L439.5,1335.3 L441.0,1335.7 L442.5,1337.2 L444.0,1337.6 L445.5,1339.5 L447.0,1338.0 L448.5,1340.0 L450.0,1339.3 L451.5,1340.5 L453.0,1341.2 L454.5,1340.9 L456.0,1339.7 L457.5,1340.9 L459.0,1342.2 L460.5,1341.5 L462.0,1341.5 L463.5,1342.6 L465.0,1343.3 L466.5,1344.1 L468.0,1344.6 L469.5,1344.5 L471.0,1343.2 L472.5,1345.1 L474.0,1344.3 L475.5,1344.2 L477.0,1344.7 L478.5,1345.5 L480.0,1346.1 L481.5,1343.8 L483.0,1347.2 L484.5,1341.3 L486.0,1347.2 L487.5,1339.7 L489.0,1345.5 L490.5,1346.3 L492.0,1345.2 L493.5,1345.8 L495.0,1345.6 L496.5,1345.5 L498.0,1345.6 L499.5,1348.3 L501.0,1346.4 L502.5,1347.2 L504.0,1343.5 L505.5,1354.7 L507.0,1348.7 L508.5,1348.0 L510.0,1348.3 L511.5,1346.8 L513.0,1348.1 L514.5,1347.4 L516.0,1347.3 L517.5,1349.9 L519.0,1343.6 L520.5,1349.2 L522.0,1350.6 L523.5,1348.9 L525.0,1350.3 L526.5,1351.5 L528.0,1349.5 L529.5,1349.4 L531.0,1349.8 L532.5,1351.5 L534.0,1346.4 L535.5,1350.0 L537.0,1351.2 L538.5,1351.5 L540.0,1350.6 L541.5,1349.2 L543.0,1355.0 L544.5,1349.5 L546.0,1346.6 L547.5,1349.9 L549.0,1350.7 L550.5,1350.0 L552.0,1349.3 L553.5,1347.2 L555.0,1344.0 L556.5,1340.0 L558.0,1338.9 L559.5,1332.6 M1180.0,1334.4 L1181.5,1337.0 L1183.0,1334.9 L1184.5,1335.6 L1186.0,1340.9 L1187.5,1338.3 L1189.0,1335.4 L1190.5,1337.2 L1192.0,1336.5 L1193.5,1336.2 L1195.0,1337.6 L1196.5,1336.6 L1198.0,1337.3 L1199.5,1338.3 M1200.0,1339.6 L1201.5,1337.7 L1203.0,1337.8 L1204.5,1339.8 L1206.0,1340.1 L1207.5,1346.0 L1209.0,1340.0 L1210.5,1340.3 L1212.0,1340.1 L1213.5,1341.2 L1215.0,1342.6 L1216.5,1343.2 L1218.0,1341.6 L1219.5,1342.1 L1221.0,1343.9 L1222.5,1344.0 L1224.0,1342.8 L1225.5,1346.1 L1227.0,1344.7 L1228.5,1338.5 L1230.0,1346.7 L1231.5,1351.1 L1233.0,1347.7 L1234.5,1345.9 L1236.0,1346.2 L1237.5,1349.2 L1239.0,1347.6 L1240.5,1348.6 L1242.0,1347.8 L1243.5,1348.5 L1245.0,1349.2 L1246.5,1350.8 L1248.0,1351.1 L1249.5,1350.4 L1251.0,1350.7 L1252.5,1356.4 L1254.0,1353.1 L1255.5,1352.0 L1257.0,1351.8 L1258.5,1353.2 L1260.0,1354.2 L1261.5,1353.8 L1263.0,1354.2 L1264.5,1354.1 L1266.0,1358.9 L1267.5,1353.2 L1269.0,1351.8 L1270.5,1352.0 L1272.0,1352.4 L1273.5,1354.0 L1275.0,1352.5 L1276.5,1351.4 L1278.0,1352.2 L1279.5,1352.1 L1281.0,1356.9 L1282.5,1350.3 L1284.0,1352.7 L1285.5,1350.5 L1287.0,1352.1 L1288.5,1351.7 L1290.0,1355.4 L1291.5,1355.0 L1293.0,1356.0 L1294.5,1357.4 L1296.0,1357.8 L1297.5,1358.4 L1299.0,1357.2 L1300.5,1357.4 L1302.0,1361.6 L1303.5,1355.9 L1305.0,1363.5 L1306.5,1356.6 L1308.0,1356.2 L1309.5,1355.7 L1311.0,1356.2 L1312.5,1357.5 L1314.0,1360.8 L1315.5,1357.0 L1317.0,1355.9 L1318.5,1355.4 L1320.0,1356.8 L1321.5,1358.7 L1323.0,1358.5 L1324.5,1357.7 L1326.0,1358.1 L1327.5,1360.9 L1329.0,1366.5 L1330.5,1359.9 L1332.0,1360.4 L1333.5,1362.5 L1335.0,1360.6 L1336.5,1363.8 L1338.0,1362.0 L1339.5,1364.4 M1340.0,1364.5 L1341.5,1362.3 L1343.0,1362.5 L1344.5,1365.0 L1346.0,1366.8 L1347.5,1364.8 L1349.0,1366.9 L1350.5,1368.2 L1352.0,1367.2 L1353.5,1369.3 L1355.0,1371.1 L1356.5,1369.6 L1358.0,1368.0 L1359.5,1370.6 L1361.0,1373.2 L1362.5,1369.9 L1364.0,1371.6 L1365.5,1375.3 L1367.0,1368.0 L1368.5,1375.6 L1370.0,1373.6 L1371.5,1372.8 L1373.0,1373.7 L1374.5,1375.0 L1376.0,1373.6 L1377.5,1372.7 L1379.0,1373.4 L1380.5,1374.6 L1382.0,1374.4 L1383.5,1374.0 L1385.0,1374.6 L1386.5,1376.9 L1388.0,1370.7 L1389.5,1383.1 L1391.0,1376.6 L1392.5,1376.1 L1394.0,1377.9 L1395.5,1380.2 L1397.0,1378.1 L1398.5,1377.8 L1400.0,1379.6 M1400.0,1379.3 L1401.5,1380.8 L1403.0,1380.0 L1404.5,1380.6 L1406.0,1376.2 L1407.5,1380.5 L1409.0,1381.9 L1410.5,1382.1 L1412.0,1383.3 L1413.5,1383.6 L1415.0,1382.5 L1416.5,1385.3 L1418.0,1385.3 L1419.5,1385.9 L1421.0,1384.4 L1422.5,1384.8 L1424.0,1386.5 L1425.5,1380.8 L1427.0,1387.7 L1428.5,1386.9 L1430.0,1387.3 L1431.5,1383.8 L1433.0,1389.3 L1434.5,1388.9 L1436.0,1389.3 L1437.5,1389.8 L1439.0,1390.4 L1440.5,1391.0 L1442.0,1391.5 L1443.5,1389.9 L1445.0,1390.0 L1446.5,1390.7 L1448.0,1390.4 L1449.5,1395.8 L1451.0,1393.0 L1452.5,1392.5 L1454.0,1392.7 L1455.5,1388.6 L1457.0,1391.6 L1458.5,1391.8 L1460.0,1393.7 L1461.5,1394.0 L1463.0,1392.7 L1464.5,1392.8 L1466.0,1394.4 L1467.5,1393.6 L1469.0,1393.6 M1945.0,1237.4 L1946.5,1229.8 L1948.0,1232.5 L1949.5,1231.3 L1951.0,1237.5 L1952.5,1237.5 L1954.0,1232.0 L1955.5,1232.7 L1957.0,1230.2 L1958.5,1230.3 L1960.0,1232.3 L1961.5,1231.5 L1963.0,1231.4 L1964.5,1230.0 L1966.0,1229.9 L1967.5,1228.1 L1969.0,1226.4 L1970.5,1226.3 L1972.0,1223.0 L1973.5,1224.0 L1975.0,1221.4 L1976.5,1220.8 L1978.0,1216.6 L1979.5,1216.2 L1981.0,1210.4 L1982.5,1208.6 L1984.0,1206.6 M2072.0,1098.4 L2073.5,1097.1 L2075.0,1097.8 L2076.5,1092.3 L2078.0,1097.1 L2079.5,1096.5 L2081.0,1095.2 L2082.5,1102.0 L2084.0,1094.4 L2085.5,1101.2 M461.7,1342.4 L463.5,1354.0 L465.3,1342.4 M515.6,1348.8 L517.4,1360.4 L519.2,1348.8 M520.0,1349.4 L521.8,1341.8 L523.6,1349.4 M1187.0,1337.3 L1188.8,1330.0 L1190.6,1337.3 M1314.5,1356.0 L1316.3,1342.9 L1318.1,1356.0 M1292.2,1356.8 L1294.0,1360.0 L1295.8,1356.8 M1956.0,1230.8 L1957.8,1245.7 L1959.6,1230.8" fill="none" stroke="#ef7d32" stroke-width="3.2" stroke-linejoin="round" stroke-linecap="round"/>
<path d="M395.2,998.5 C401.0,999.1 406.5,999.2 412.6,1000.2 C419.5,1001.4 427.7,1003.3 434.3,1005.6 C440.2,1007.7 445.0,1011.2 450.5,1013.2 C455.8,1015.1 461.3,1016.2 466.8,1017.5 C472.2,1018.8 477.7,1019.9 483.1,1020.8 C488.5,1021.7 494.0,1022.3 499.4,1023.0 C504.8,1023.7 510.3,1024.6 515.7,1025.1 C521.1,1025.6 527.0,1026.1 532.0,1026.2 C536.3,1026.3 540.3,1027.1 544.0,1026.0 C547.6,1025.0 551.4,1023.0 554.0,1020.0 C557.0,1016.6 558.2,1011.5 560.0,1006.0 C562.4,998.8 564.0,988.5 566.0,980.0 C568.0,971.8 570.0,964.0 572.0,956.0 C574.0,948.0 576.1,940.3 578.0,932.0 C580.1,923.0 582.1,913.8 584.0,904.0 C586.1,893.2 587.9,881.0 590.0,870.0 C591.9,859.7 594.3,850.0 596.0,840.0 C597.7,830.0 598.7,820.0 600.0,810.0 C601.3,800.0 602.4,791.6 604.0,780.0 C606.2,763.8 609.4,741.7 612.0,722.0 C614.7,701.7 617.3,680.5 620.0,660.0 C622.6,639.8 625.5,619.7 628.0,600.0 C630.5,581.0 632.7,563.3 635.0,544.0 C637.4,523.4 639.5,501.0 642.0,480.0 C644.5,459.7 647.2,439.1 650.0,420.0 C652.6,402.6 655.4,384.5 658.0,370.0 C660.0,358.7 662.1,350.7 664.0,340.0 C666.2,327.6 667.8,312.4 670.0,300.0 C671.9,289.3 673.8,280.3 676.0,270.0 C678.4,259.0 681.3,247.2 684.0,236.0 C686.6,225.2 689.5,213.7 692.0,204.0 C694.1,196.0 696.0,189.1 698.0,182.0 C700.0,175.2 701.8,168.0 704.0,162.0 C705.9,156.9 707.9,152.5 710.0,148.0 C711.9,143.8 713.7,139.6 716.0,136.0 C718.1,132.7 720.6,129.7 723.0,127.0 C725.3,124.4 727.7,121.9 730.0,120.0 C732.0,118.4 734.0,116.9 736.0,116.0 C737.7,115.2 739.3,114.3 741.0,114.5 C743.0,114.7 745.2,116.4 747.0,118.0 C749.0,119.8 750.5,122.3 752.0,125.0 C753.8,128.2 755.4,132.1 757.0,136.0 C758.8,140.4 760.4,145.2 762.0,150.0 C763.7,154.9 765.5,160.0 767.0,165.0 C768.5,170.0 769.6,174.6 771.0,180.0 C772.6,186.2 774.3,193.3 776.0,200.0 C777.7,206.7 779.5,213.3 781.0,220.0 C782.5,226.6 783.7,233.2 785.0,240.0 C786.4,247.2 787.5,254.6 789.0,262.0 C790.5,269.6 792.3,275.9 794.0,285.0 C796.5,298.1 799.8,319.3 802.0,333.0 C803.6,343.3 804.7,350.8 806.0,360.0 C807.4,369.7 808.7,380.0 810.0,390.0 C811.3,400.0 812.7,410.0 814.0,420.0 C815.3,430.0 816.6,440.0 818.0,450.0 C819.4,460.0 820.8,470.0 822.5,480.0 C824.2,490.0 825.6,499.9 828.0,510.0 C830.5,520.6 834.6,530.8 837.5,542.0 C840.6,554.1 843.0,567.2 846.0,580.0 C849.1,593.2 852.7,606.7 856.0,620.0 C859.3,633.3 862.6,647.0 866.0,660.0 C869.3,672.3 872.6,685.5 876.0,696.0 C878.7,704.3 881.1,717.8 884.0,718.0 C886.5,718.1 889.4,707.4 892.0,702.0 C894.7,696.4 897.9,692.3 900.0,685.0 C903.2,673.6 903.5,653.7 905.3,639.0 C907.0,625.5 908.6,609.9 910.6,600.0 C911.8,593.8 912.8,587.8 914.5,585.0 C915.3,583.6 916.2,582.4 917.2,582.5 C918.8,582.7 921.0,587.1 922.4,590.3 C924.3,594.5 925.0,600.6 926.4,606.2 C928.0,612.4 929.0,620.9 931.7,626.0 C933.8,629.9 937.2,632.4 939.6,635.2 C941.6,637.6 943.5,638.8 944.9,641.8 C947.0,646.2 947.6,653.4 948.8,660.3 C950.3,668.9 951.5,679.9 952.8,689.3 C954.1,698.3 955.1,707.3 956.7,715.7 C958.2,723.5 960.2,730.9 962.0,738.1 C963.7,744.9 965.3,751.3 967.3,757.9 C969.3,764.5 971.9,771.3 973.9,777.7 C975.8,783.6 977.3,788.8 979.2,794.8 C981.3,801.4 982.7,808.7 985.7,815.7 C989.0,823.4 994.0,831.6 998.5,838.7 C1002.6,845.2 1006.9,851.2 1011.3,856.7 C1015.4,861.8 1019.9,866.0 1024.1,870.8 C1028.4,875.8 1032.7,881.1 1037.0,886.2 C1041.3,891.3 1045.6,896.3 1049.8,901.6 C1054.1,907.0 1058.2,913.1 1062.6,918.3 C1066.8,923.3 1071.1,927.9 1075.4,932.4 C1079.6,936.8 1083.9,941.3 1088.3,945.2 C1092.5,948.9 1096.7,952.4 1101.1,955.5 C1105.3,958.4 1109.6,960.6 1113.9,963.2 C1118.2,965.8 1122.5,968.3 1126.8,970.9 C1131.1,973.5 1135.3,976.0 1139.6,978.6 C1143.9,981.2 1148.1,983.7 1152.4,986.3 C1156.7,988.9 1160.9,991.6 1165.2,994.0 C1169.4,996.3 1173.8,998.3 1178.1,1000.4 C1182.4,1002.5 1186.5,1005.3 1190.9,1006.8 C1195.1,1008.2 1199.1,1008.1 1203.7,1009.3 C1209.3,1010.7 1215.8,1012.7 1222.0,1015.0 C1228.6,1017.5 1234.9,1021.7 1242.2,1023.7 C1250.0,1025.9 1259.3,1025.9 1267.4,1027.1 C1274.9,1028.2 1282.1,1029.3 1289.2,1030.4 C1296.0,1031.5 1302.2,1032.7 1309.3,1033.8 C1317.2,1035.0 1326.2,1035.5 1334.5,1037.2 C1343.0,1038.9 1353.1,1040.8 1359.7,1043.9 C1364.6,1046.2 1366.8,1050.8 1371.4,1052.0 C1376.7,1053.4 1384.8,1048.7 1389.9,1050.6 C1394.7,1052.4 1397.6,1059.4 1401.6,1062.3 C1404.9,1064.7 1407.5,1065.7 1411.7,1067.3 C1417.8,1069.7 1427.1,1072.1 1435.1,1074.0 C1443.3,1076.0 1452.4,1078.5 1460.3,1079.1 C1467.2,1079.6 1474.6,1078.7 1480.0,1078.0 C1483.9,1077.5 1486.8,1077.5 1490.0,1076.0 C1493.5,1074.3 1497.0,1071.6 1500.0,1068.0 C1503.8,1063.5 1507.4,1056.7 1510.0,1050.0 C1512.9,1042.5 1514.3,1033.4 1516.0,1025.0 C1517.7,1016.7 1519.0,1009.7 1520.0,1000.0 C1521.4,986.5 1521.2,969.2 1522.0,951.4 C1523.0,929.9 1524.4,903.8 1525.7,880.0 C1527.0,856.2 1528.6,832.4 1530.0,808.6 C1531.4,784.8 1532.8,759.5 1534.3,737.0 C1535.7,716.9 1536.9,696.3 1538.6,680.0 C1539.9,667.8 1541.2,655.0 1543.0,648.0 C1543.9,644.4 1544.3,640.6 1546.0,640.0 C1547.6,639.4 1551.0,641.4 1552.9,644.0 C1556.7,649.1 1558.0,663.3 1560.0,674.3 C1562.4,687.3 1563.8,702.5 1565.7,717.0 C1567.6,732.0 1569.6,746.6 1571.4,762.9 C1573.4,781.6 1574.8,803.5 1577.0,823.0 C1579.1,841.5 1581.2,876.7 1584.3,877.0 C1586.4,877.2 1589.0,861.9 1591.4,854.3 C1593.8,846.7 1595.8,831.6 1598.6,831.4 C1601.5,831.2 1605.8,845.4 1608.6,854.3 C1612.2,865.6 1614.3,880.1 1617.0,894.3 C1620.0,910.3 1622.8,945.6 1625.7,945.7 C1627.6,945.8 1629.8,932.6 1631.4,922.9 C1634.1,906.3 1632.4,870.7 1637.0,854.3 C1639.8,844.3 1645.1,840.3 1648.6,831.4 C1653.0,820.1 1655.6,791.8 1660.0,791.4 C1663.4,791.1 1666.4,808.9 1671.4,814.3 C1675.4,818.6 1681.2,819.1 1685.7,822.9 C1690.9,827.3 1695.4,836.9 1700.0,840.0 C1702.9,842.0 1706.1,840.3 1708.6,842.9 C1713.7,848.0 1715.1,871.3 1720.0,877.0 C1722.6,880.0 1725.9,882.2 1728.6,881.4 C1732.7,880.3 1736.3,862.8 1740.0,862.9 C1743.9,863.0 1747.5,876.6 1751.4,882.9 C1755.1,888.9 1759.9,893.2 1762.9,900.0 C1766.6,908.3 1768.3,930.0 1770.5,930.0 C1772.5,930.0 1774.2,915.8 1775.7,906.0 C1778.0,891.0 1779.3,865.9 1781.2,848.4 C1782.8,833.7 1784.0,823.5 1786.0,808.0 C1788.7,787.0 1793.3,758.4 1796.0,734.0 C1798.6,710.4 1800.3,686.4 1802.0,664.0 C1803.6,643.2 1804.7,624.0 1806.0,604.0 C1807.3,584.0 1808.4,563.1 1810.0,544.0 C1811.5,526.6 1813.5,510.7 1815.0,494.0 C1816.5,477.3 1817.6,462.3 1819.0,444.0 C1820.6,421.7 1822.3,392.0 1824.0,370.0 C1825.3,352.3 1825.7,334.8 1828.0,322.0 C1829.6,313.2 1832.6,308.5 1834.0,300.0 C1835.8,288.7 1835.3,274.7 1836.0,260.0 C1836.9,242.0 1838.0,220.0 1839.0,200.0 C1840.0,180.0 1840.8,156.6 1842.0,140.0 C1842.9,128.3 1843.7,117.7 1845.0,110.0 C1845.9,105.1 1847.0,98.0 1848.0,98.0 C1849.3,98.0 1850.9,110.8 1852.0,120.0 C1853.9,135.0 1854.7,159.2 1856.0,180.0 C1857.4,202.4 1858.5,228.6 1860.0,250.0 C1861.2,268.1 1862.7,283.3 1864.0,300.0 C1865.3,316.7 1866.7,333.3 1868.0,350.0 C1869.3,366.7 1870.3,383.9 1872.0,400.0 C1873.6,415.2 1876.4,428.8 1878.0,444.0 C1879.7,460.1 1880.7,477.3 1882.0,494.0 C1883.3,510.7 1884.7,526.6 1886.0,544.0 C1887.4,563.1 1888.7,584.0 1890.0,604.0 C1891.3,624.0 1893.0,646.5 1894.0,664.0 C1894.8,677.5 1895.3,687.7 1895.8,700.0 C1896.3,712.9 1896.1,727.0 1897.1,739.6 C1898.0,751.1 1899.2,763.4 1901.1,772.5 C1902.5,779.2 1903.7,786.2 1906.4,789.7 C1908.2,792.0 1911.2,792.0 1913.0,793.6 C1914.7,795.1 1915.8,796.3 1916.9,799.0 C1919.1,804.3 1919.6,816.5 1920.9,825.3 C1922.2,834.1 1923.0,844.1 1924.8,851.7 C1926.2,857.7 1927.7,862.6 1930.1,867.5 C1932.5,872.3 1936.2,876.5 1939.3,880.7 C1942.3,884.8 1946.0,892.9 1948.6,892.5 C1951.4,892.1 1951.6,878.2 1955.2,875.4 C1957.9,873.3 1961.9,874.7 1965.7,874.1 C1970.2,873.4 1976.3,873.9 1980.2,871.4 C1984.3,868.8 1986.6,863.1 1989.5,858.2 C1992.8,852.7 1995.5,846.1 1998.7,839.8 C2002.1,833.0 2005.3,824.7 2009.2,818.7 C2012.5,813.6 2016.1,809.9 2019.8,805.5 C2023.6,801.0 2027.6,796.9 2031.6,792.3 C2035.9,787.3 2040.3,781.4 2044.8,776.5 C2049.1,771.8 2054.2,767.9 2058.0,763.3 C2061.6,759.0 2064.4,754.7 2067.3,750.1 C2070.2,745.5 2071.8,738.3 2075.2,735.6 C2077.8,733.5 2081.4,733.7 2084.4,733.0 C2087.1,732.4 2090.3,730.6 2092.3,731.6 C2094.4,732.6 2095.5,736.5 2096.3,739.6 C2097.3,743.3 2096.7,748.3 2096.9,752.7" fill="none" stroke="#52ad48" stroke-width="5.0" stroke-linejoin="round" stroke-linecap="butt"/>
<path d="M420.0,1002.0 L424.5,1003.2 L429.0,1004.3 L433.5,1005.4 L438.0,1007.3 L442.5,1009.4 L447.0,1011.6 L451.5,1013.5 L456.0,1014.7 L460.5,1015.8 L465.0,1017.0 L469.5,1018.0 L474.0,1019.0 L478.5,1019.9 L483.0,1020.8 L487.5,1021.4 L492.0,1022.0 L496.5,1022.6 L501.0,1023.2 L505.5,1023.8 L510.0,1024.4 L514.5,1024.9 L519.0,1025.3 L523.5,1025.6 L528.0,1025.9 L532.5,1026.2 L537.0,1026.1 L541.5,1026.0 L546.0,1024.8 L550.5,1022.1 L555.0,1017.7 L559.5,1007.2 L559.5,1007.2" fill="none" stroke="#52ad48" stroke-width="6.5" stroke-linejoin="round" stroke-linecap="round"/>
<path d="M1180.0,1001.4 L1184.5,1003.6 L1189.0,1005.8 L1193.5,1007.3 L1198.0,1008.2 L1199.5,1008.5" fill="none" stroke="#52ad48" stroke-width="7.0" stroke-linejoin="round" stroke-linecap="round"/>
<path d="M1200.0,1008.6 L1204.5,1009.5 L1209.0,1011.0 L1213.5,1012.4 L1218.0,1013.8 L1222.5,1015.2 L1227.0,1017.2 L1231.5,1019.1 L1236.0,1021.0 L1240.5,1023.0 L1245.0,1024.1 L1249.5,1024.7 L1254.0,1025.3 L1258.5,1025.9 L1263.0,1026.5 L1267.5,1027.1 L1272.0,1027.8 L1276.5,1028.5 L1281.0,1029.2 L1285.5,1029.8 L1290.0,1030.5 L1294.5,1031.3 L1299.0,1032.1 L1303.5,1032.8 L1308.0,1033.6 L1312.5,1034.2 L1317.0,1034.8 L1321.5,1035.4 L1326.0,1036.1 L1330.5,1036.7 L1335.0,1037.3 L1339.5,1038.5 L1344.0,1039.7 L1344.0,1039.7" fill="none" stroke="#52ad48" stroke-width="7.5" stroke-linejoin="round" stroke-linecap="round"/>
<path d="M1345.0,1040.0 L1349.5,1041.2 L1354.0,1042.4 L1358.5,1043.6 L1363.0,1046.2 L1367.5,1049.3 L1372.0,1052.0 L1376.5,1051.6 L1381.0,1051.3 L1385.5,1050.9 L1390.0,1050.7 L1394.5,1055.2 L1394.5,1055.2" fill="none" stroke="#52ad48" stroke-width="9.0" stroke-linejoin="round" stroke-linecap="round"/>
<path d="M1395.0,1055.7 L1399.5,1060.2 L1404.0,1063.5 L1408.5,1065.7 L1413.0,1067.7 L1417.5,1069.0 L1422.0,1070.2 L1426.5,1071.5 L1431.0,1072.8 L1435.5,1074.1 L1440.0,1075.0 L1444.5,1075.9 L1449.0,1076.8 L1453.5,1077.7 L1458.0,1078.6 L1462.5,1079.0 L1467.0,1078.7 L1470.0,1078.6" fill="none" stroke="#52ad48" stroke-width="6.5" stroke-linejoin="round" stroke-linecap="round"/>
<path d="M1945.0,887.9 L1949.5,890.2 L1954.0,878.5 L1958.5,875.0 L1963.0,874.4 L1967.5,873.8 L1972.0,872.9 L1976.5,872.1 L1981.0,870.3 L1984.0,866.0" fill="none" stroke="#52ad48" stroke-width="7.5" stroke-linejoin="round" stroke-linecap="round"/>
<path d="M2080.0,734.2 L2084.5,733.0 L2089.0,732.2 L2092.0,731.7" fill="none" stroke="#52ad48" stroke-width="7.0" stroke-linejoin="round" stroke-linecap="round"/>
<path d="M420.0,1003.2 L421.5,1001.6 L423.0,1002.6 L424.5,1004.1 L426.0,996.8 L427.5,1004.3 L429.0,1004.9 L430.5,1005.6 L432.0,1003.8 L433.5,1003.9 L435.0,1004.4 L436.5,1007.2 L438.0,1008.1 L439.5,1008.9 L441.0,1008.9 L442.5,1010.0 L444.0,1011.6 L445.5,1010.6 L447.0,1012.9 L448.5,1016.3 L450.0,1013.7 L451.5,1014.9 L453.0,1014.9 L454.5,1013.6 L456.0,1015.9 L457.5,1015.1 L459.0,1014.0 L460.5,1016.8 L462.0,1015.2 L463.5,1017.3 L465.0,1016.6 L466.5,1017.4 L468.0,1017.8 L469.5,1018.0 L471.0,1013.7 L472.5,1019.0 L474.0,1019.4 L475.5,1018.4 L477.0,1014.1 L478.5,1019.0 L480.0,1021.6 L481.5,1020.3 L483.0,1020.9 L484.5,1019.4 L486.0,1022.2 L487.5,1022.2 L489.0,1021.7 L490.5,1021.6 L492.0,1027.6 L493.5,1022.2 L495.0,1021.9 L496.5,1022.7 L498.0,1023.2 L499.5,1021.5 L501.0,1022.2 L502.5,1024.6 L504.0,1024.5 L505.5,1023.0 L507.0,1024.5 L508.5,1019.0 L510.0,1023.7 L511.5,1025.5 L513.0,1024.1 L514.5,1024.2 L516.0,1025.6 L517.5,1024.6 L519.0,1025.3 L520.5,1030.4 L522.0,1024.5 L523.5,1018.6 L525.0,1027.2 L526.5,1025.5 L528.0,1020.8 L529.5,1025.8 L531.0,1027.7 L532.5,1026.8 L534.0,1026.2 L535.5,1032.1 L537.0,1026.9 L538.5,1025.2 L540.0,1019.5 L541.5,1027.4 L543.0,1025.7 L544.5,1024.1 L546.0,1023.3 L547.5,1025.4 L549.0,1021.9 L550.5,1023.6 L552.0,1021.2 L553.5,1019.8 L555.0,1018.2 L556.5,1013.2 L558.0,1015.3 L559.5,1006.6 M1180.0,1002.9 L1181.5,995.1 L1183.0,1003.1 L1184.5,1003.3 L1186.0,1002.7 L1187.5,1005.3 L1189.0,1007.2 L1190.5,1007.7 L1192.0,1005.3 L1193.5,1002.7 L1195.0,1006.5 L1196.5,1008.3 L1198.0,1007.7 L1199.5,1007.6 M1200.0,1009.0 L1201.5,1010.3 L1203.0,1009.3 L1204.5,1004.3 L1206.0,1011.8 L1207.5,1009.1 L1209.0,1015.0 L1210.5,1011.7 L1212.0,1011.4 L1213.5,1012.5 L1215.0,1017.0 L1216.5,1017.1 L1218.0,1012.3 L1219.5,1009.8 L1221.0,1015.0 L1222.5,1015.0 L1224.0,1014.6 L1225.5,1016.3 L1227.0,1018.3 L1228.5,1018.9 L1230.0,1019.2 L1231.5,1018.0 L1233.0,1018.0 L1234.5,1021.9 L1236.0,1020.4 L1237.5,1021.3 L1239.0,1029.5 L1240.5,1021.6 L1242.0,1024.0 L1243.5,1024.0 L1245.0,1024.7 L1246.5,1024.4 L1248.0,1023.6 L1249.5,1028.8 L1251.0,1023.4 L1252.5,1024.5 L1254.0,1027.0 L1255.5,1020.6 L1257.0,1027.1 L1258.5,1025.3 L1260.0,1026.4 L1261.5,1025.4 L1263.0,1021.3 L1264.5,1028.0 L1266.0,1025.2 L1267.5,1032.6 L1269.0,1026.1 L1270.5,1028.6 L1272.0,1023.4 L1273.5,1026.7 L1275.0,1027.6 L1276.5,1029.7 L1278.0,1027.4 L1279.5,1029.1 L1281.0,1030.2 L1282.5,1029.8 L1284.0,1029.8 L1285.5,1031.6 L1287.0,1029.3 L1288.5,1028.7 L1290.0,1029.6 L1291.5,1031.4 L1293.0,1030.8 L1294.5,1031.1 L1296.0,1029.8 L1297.5,1030.6 L1299.0,1033.1 L1300.5,1034.0 L1302.0,1038.4 L1303.5,1031.5 L1305.0,1032.3 L1306.5,1032.1 L1308.0,1037.4 L1309.5,1033.8 L1311.0,1033.8 L1312.5,1035.1 L1314.0,1034.4 L1315.5,1033.6 L1317.0,1035.1 L1318.5,1036.5 L1320.0,1035.8 L1321.5,1029.0 L1323.0,1035.2 L1324.5,1036.9 L1326.0,1035.3 L1327.5,1036.4 L1329.0,1037.2 L1330.5,1035.2 L1332.0,1037.2 L1333.5,1036.6 L1335.0,1037.1 L1336.5,1038.5 L1338.0,1038.1 L1339.5,1039.0 L1341.0,1040.2 L1342.5,1041.1 L1344.0,1038.3 M1345.0,1037.9 L1346.5,1038.2 L1348.0,1043.2 L1349.5,1043.6 L1351.0,1039.4 L1352.5,1040.6 L1354.0,1044.7 L1355.5,1042.2 L1357.0,1042.9 L1358.5,1043.5 L1360.0,1043.8 L1361.5,1047.3 L1363.0,1045.0 L1364.5,1047.5 L1366.0,1048.4 L1367.5,1046.9 L1369.0,1049.0 L1370.5,1049.7 L1372.0,1050.4 L1373.5,1053.2 L1375.0,1051.4 L1376.5,1053.5 L1378.0,1050.8 L1379.5,1049.4 L1381.0,1053.2 L1382.5,1052.8 L1384.0,1048.6 L1385.5,1048.4 L1387.0,1051.7 L1388.5,1051.5 L1390.0,1057.3 L1391.5,1052.2 L1393.0,1053.8 L1394.5,1062.3 M1395.0,1055.8 L1396.5,1057.8 L1398.0,1057.8 L1399.5,1059.9 L1401.0,1062.9 L1402.5,1063.3 L1404.0,1064.0 L1405.5,1065.2 L1407.0,1065.0 L1408.5,1066.2 L1410.0,1066.9 L1411.5,1067.6 L1413.0,1067.7 L1414.5,1068.3 L1416.0,1068.1 L1417.5,1070.1 L1419.0,1070.5 L1420.5,1064.4 L1422.0,1070.6 L1423.5,1071.0 L1425.0,1072.2 L1426.5,1072.4 L1428.0,1072.7 L1429.5,1072.0 L1431.0,1073.3 L1432.5,1073.4 L1434.0,1074.5 L1435.5,1074.0 L1437.0,1068.6 L1438.5,1074.3 L1440.0,1073.8 L1441.5,1076.4 L1443.0,1075.4 L1444.5,1076.2 L1446.0,1075.5 L1447.5,1076.0 L1449.0,1081.7 L1450.5,1076.0 L1452.0,1078.0 L1453.5,1077.9 L1455.0,1078.6 L1456.5,1078.1 L1458.0,1078.1 L1459.5,1079.5 L1461.0,1079.3 L1462.5,1079.4 L1464.0,1079.8 L1465.5,1079.8 L1467.0,1078.1 L1468.5,1077.6 L1470.0,1079.4 M1945.0,888.3 L1946.5,888.4 L1948.0,891.6 L1949.5,891.3 L1951.0,886.0 L1952.5,882.0 L1954.0,872.0 L1955.5,873.8 L1957.0,875.1 L1958.5,870.8 L1960.0,872.9 L1961.5,875.4 L1963.0,874.5 L1964.5,875.8 L1966.0,874.7 L1967.5,874.2 L1969.0,872.4 L1970.5,873.0 L1972.0,874.8 L1973.5,871.8 L1975.0,871.9 L1976.5,871.1 L1978.0,870.3 L1979.5,869.8 L1981.0,863.3 L1982.5,867.7 L1984.0,867.7 M2080.0,735.4 L2081.5,732.8 L2083.0,731.9 L2084.5,733.5 L2086.0,737.1 L2087.5,739.1 L2089.0,726.8 L2090.5,733.2 L2092.0,731.5 M462.2,1016.8 L464.0,1033.5 L465.8,1016.8 M515.2,1025.2 L517.0,1037.5 L518.8,1025.2 M520.2,1025.5 L522.0,1013.8 L523.8,1025.5 M1192.6,1007.5 L1194.4,998.6 L1196.2,1007.5 M1190.1,1007.0 L1191.9,1019.5 L1193.7,1007.0 M1287.4,1030.4 L1289.2,1017.9 L1291.0,1030.4 M1318.4,1035.3 L1320.2,1015.3 L1322.0,1035.3 M1369.6,1052.0 L1371.4,1062.3 L1373.2,1052.0 M1965.9,873.7 L1967.7,892.5 L1969.5,873.7" fill="none" stroke="#52ad48" stroke-width="3.2" stroke-linejoin="round" stroke-linecap="round"/>
<line x1="700.8" y1="69.6" x2="707.7" y2="1820.7" stroke="#707070" stroke-width="3.2" stroke-dasharray="8.6 7"/>
<line x1="916.5" y1="512.6" x2="918.7" y2="1851.8" stroke="#707070" stroke-width="3.2" stroke-dasharray="8.6 7"/>
<line x1="1542.0" y1="468.8" x2="1544.4" y2="1810.0" stroke="#707070" stroke-width="3.2" stroke-dasharray="8.6 7"/>
<line x1="1607.0" y1="717.0" x2="1600.6" y2="1821.0" stroke="#707070" stroke-width="3.2" stroke-dasharray="8.6 7"/>
<line x1="1838.6" y1="69.7" x2="1845.2" y2="1818.8" stroke="#707070" stroke-width="3.2" stroke-dasharray="8.6 7"/>
<line x1="1912.5" y1="706.9" x2="1909.2" y2="1817.7" stroke="#707070" stroke-width="3.2" stroke-dasharray="8.6 7"/>
<g stroke="#000" stroke-width="5" fill="none">
<rect x="152.5" y="23" width="2192.5" height="1802"/>
<line x1="152.5" y1="1825.0" x2="152.5" y2="1861"/>
<line x1="396.1" y1="1825.0" x2="396.1" y2="1861"/>
<line x1="639.6" y1="1825.0" x2="639.6" y2="1861"/>
<line x1="883.2" y1="1825.0" x2="883.2" y2="1861"/>
<line x1="1126.7" y1="1825.0" x2="1126.7" y2="1861"/>
<line x1="1370.3" y1="1825.0" x2="1370.3" y2="1861"/>
<line x1="1613.8" y1="1825.0" x2="1613.8" y2="1861"/>
<line x1="1857.4" y1="1825.0" x2="1857.4" y2="1861"/>
<line x1="2100.9" y1="1825.0" x2="2100.9" y2="1861"/>
<line x1="2344.5" y1="1825.0" x2="2344.5" y2="1861"/>
<line x1="274.3" y1="1825.0" x2="274.3" y2="1843"/>
<line x1="517.8" y1="1825.0" x2="517.8" y2="1843"/>
<line x1="761.4" y1="1825.0" x2="761.4" y2="1843"/>
<line x1="1004.9" y1="1825.0" x2="1004.9" y2="1843"/>
<line x1="1248.5" y1="1825.0" x2="1248.5" y2="1843"/>
<line x1="1492.1" y1="1825.0" x2="1492.1" y2="1843"/>
<line x1="1735.6" y1="1825.0" x2="1735.6" y2="1843"/>
<line x1="1979.2" y1="1825.0" x2="1979.2" y2="1843"/>
<line x1="2222.7" y1="1825.0" x2="2222.7" y2="1843"/>
</g>
<g font-family="Liberation Sans, Arial, sans-serif" font-size="76" fill="#000" text-anchor="middle">
<text x="152.5" y="1948">4500</text>
<text x="396.1" y="1948">4000</text>
<text x="639.6" y="1948">3500</text>
<text x="883.2" y="1948">3000</text>
<text x="1126.7" y="1948">2500</text>
<text x="1370.3" y="1948">2000</text>
<text x="1613.8" y="1948">1500</text>
<text x="1857.4" y="1948">1000</text>
<text x="2100.9" y="1948">500</text>
<text x="2344.5" y="1948">0</text>
</g>
<text x="780" y="2101.8" font-family="Liberation Sans, Arial, sans-serif" font-size="91" fill="#000">Wavenumber(cm<tspan font-size="63" dy="-29">-1</tspan><tspan dy="29">)</tspan></text>
<text transform="translate(87.5,927.9) rotate(-90)" text-anchor="middle" font-family="Liberation Sans, Arial, sans-serif" font-size="91" fill="#000">Absorbance</text>
<g font-family="Liberation Sans, Arial, sans-serif" font-size="58" font-weight="bold">
<text x="242.2" y="931.5" fill="#55aa45" textLength="125.6" lengthAdjust="spacingAndGlyphs">AX-2</text>
<text x="245" y="1293.7" fill="#ee7d33" textLength="121" lengthAdjust="spacingAndGlyphs">AX-1</text>
<text x="264" y="1728.7" fill="#133a72" textLength="75.5" lengthAdjust="spacingAndGlyphs">AX</text>
</g>
</svg>
</body></html>
